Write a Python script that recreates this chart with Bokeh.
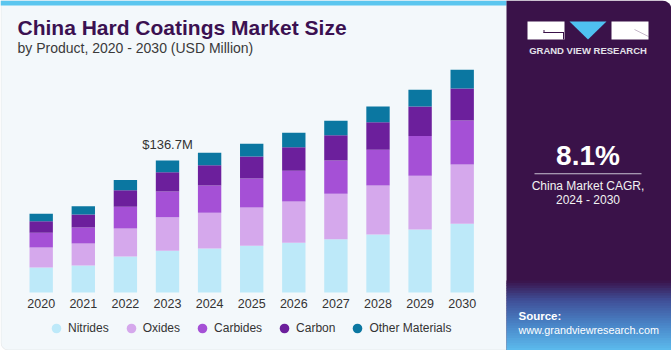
from bokeh.plotting import figure
from bokeh.models import ColumnDataSource, Range1d, Label, BoxAnnotation, PolyAnnotation, Legend, LegendItem
from bokeh.embed import file_html
from bokeh.resources import INLINE
from bokeh.core.properties import value

# ---------------- data ----------------
years = [2020, 2021, 2022, 2023, 2024, 2025, 2026, 2027, 2028, 2029, 2030]
year_labels = [str(y) for y in years]
segments = ["Nitrides", "Oxides", "Carbides", "Carbon", "Other Materials"]
nitrides = [25.9, 28.0, 37.3, 43.2, 45.6, 48.4, 51.5, 55.2, 60.1, 65.2, 71.1]
oxides = [20.7, 22.8, 29.0, 34.8, 37.0, 39.7, 42.8, 47.0, 50.7, 55.6, 61.4]
carbides = [15.2, 16.6, 22.5, 26.6, 28.3, 30.0, 31.8, 34.5, 37.0, 41.4, 45.6]
carbon = [12.0, 13.5, 17.2, 20.0, 21.0, 22.8, 24.4, 26.2, 28.6, 30.3, 33.1]
other = [7.7, 8.3, 10.4, 12.1, 12.8, 13.2, 14.9, 14.9, 16.3, 17.6, 19.4]
highlight_year = 2023
cagr_text = "8.1%"
cagr_caption = ["China Market CAGR,", "2024 - 2030"]

colors = ["#bde9f9", "#d5a8ec", "#a550d6", "#6c1f9c", "#0b77a1"]
FONT = "Liberation Sans"

# ---------------- layout constants ----------------
W, H = 671, 350
BASE = 292.0          # baseline, px from top
PX_PER_UNIT = 0.9656  # px per USD million
PX_PER_YEAR = 42.1
FIRST_CENTER = 40.7
SHIFT = 0.35          # baseline correction (em)


def sy(t):
    return H - t


def bl(t, fs):
    """screen y (from bottom) for a text whose baseline should sit at t px from top"""
    return H - (t - SHIFT * fs)


totals = [round(a + b + c + d + e, 1) for a, b, c, d, e in zip(nitrides, oxides, carbides, carbon, other)]
keys = ["nitrides", "oxides", "carbides", "carbon", "other"]
source = ColumnDataSource(dict(year=years, label=year_labels, zero=[0] * len(years),
                               nitrides=nitrides, oxides=oxides, carbides=carbides,
                               carbon=carbon, other=other, total=totals))

p = figure(width=W, height=H, output_backend="svg", toolbar_location=None,
           x_axis_type=None, y_axis_type=None, min_border=0,
           x_range=Range1d(2020 - FIRST_CENTER / PX_PER_YEAR, 2020 + (W - FIRST_CENTER) / PX_PER_YEAR),
           y_range=Range1d(-(H - BASE) / PX_PER_UNIT, BASE / PX_PER_UNIT))
p.outline_line_color = None
p.background_fill_color = "white"
p.border_fill_color = "white"


def box(l, r, t, b, color, level="annotation", **kw):
    bx = BoxAnnotation(left=l, right=r, top=sy(t), bottom=sy(b),
                       left_units="screen", right_units="screen", top_units="screen", bottom_units="screen",
                       fill_color=color, fill_alpha=1, level=level, **kw)
    p.add_layout(bx)
    return bx


def label(x, t, text, fs, color, bold=False, align="left"):
    p.add_layout(Label(x=x, y=bl(t, fs), x_units="screen", y_units="screen", text=text,
                       text_font=FONT, text_font_size="%spx" % fs,
                       text_font_style="bold" if bold else "normal",
                       text_color=color, text_align=align, text_baseline="alphabetic"))


# left panel background
box(0.5, 530, 0, 349.5, "#f3f8fb", level="underlay", line_color="#cccccc", line_width=1,
    border_radius=(0, 0, 0, 7))
box(0, 506, 0, 5, "#5bc6ef", level="underlay", line_color=None)

# bars
p.vbar_stack(keys, x="year", width=0.555, color=colors, source=source, line_color=None)

# year labels
p.text(x="year", y="zero", text="label", source=source, text_align="center",
       text_baseline="alphabetic", y_offset=15 - SHIFT * 12.5, text_font=value(FONT),
       text_font_size="12.5px", text_color="#333333")

# highlight value
hi = years.index(highlight_year)
p.text(x=[years[hi]], y=[totals[hi]], text=["$%.1fM" % totals[hi]], text_align="center",
       text_baseline="alphabetic", y_offset=-11 - SHIFT * 13, text_font=value(FONT),
       text_font_size="13px", text_color="#333333")

# legend
items = []
for name, col in zip(segments, colors):
    r = p.scatter(x=[float("nan")], y=[float("nan")], marker="circle", color=col, line_color=None)
    items.append(LegendItem(label=name, renderers=[r]))
legend = Legend(items=items, orientation="horizontal", location=(44, 10),
                glyph_width=24, glyph_height=24, label_height=24, label_standoff=0,
                spacing=10, padding=0, margin=0, border_line_alpha=0, background_fill_alpha=0,
                label_text_font=FONT, label_text_font_size="12px", label_text_color="#333333")
p.add_layout(legend)

# title
label(17, 34.3, "China Hard Coatings Market Size", 21, "#3b1151", bold=True)
label(17, 52.5, "by Product, 2020 - 2030 (USD Million)", 14, "#3a3a3a")

# right panel
box(506, 671, 0, 350, "#3a1249", line_color=None, border_radius=(0, 9, 0, 0))


def hex2rgb(h):
    h = h.lstrip("#")
    return [int(h[i:i + 2], 16) for i in (0, 2, 4)]


stops = [(280, "#3a1249"), (300, "#3f4f98"), (325, "#4a86c8"), (350, "#5cbcee")]
t = 280.0
step = 2.5
while t < 350:
    for (a, ca), (b, cb) in zip(stops[:-1], stops[1:]):
        if a <= t < b:
            f = (t + step / 2 - a) / (b - a)
            c1, c2 = hex2rgb(ca), hex2rgb(cb)
            col = "#%02x%02x%02x" % tuple(int(round(x + (y - x) * f)) for x, y in zip(c1, c2))
            break
    box(506, 671, t, min(350, t + step + 0.5), col, line_color=None)
    t += step

# logo
box(527, 564, 21, 39, "white", line_color=None)
box(611, 648, 21, 39, "white", line_color=None)
p.add_layout(PolyAnnotation(xs=[569, 606, 587.5], ys=[sy(21), sy(21), sy(39)],
                            xs_units="screen", ys_units="screen", fill_color="#4fc1f0",
                            fill_alpha=1, line_color=None))
box(543, 563, 31.5, 32.5, "#3a1249", line_color=None)
box(562.5, 563.5, 31.5, 39, "#3a1249", line_color=None)
box(543, 544, 29.5, 32.5, "#3a1249", line_color=None)
p.add_layout(PolyAnnotation(xs=[634, 648], ys=[sy(29), sy(36)], xs_units="screen", ys_units="screen",
                            fill_alpha=0, line_color="#3a1249", line_width=1))
label(587.5, 53.3, "GRAND VIEW RESEARCH", 9.5, "#e4e2ea", bold=True, align="center")

label(587.5, 165, cagr_text, 28, "white", bold=True, align="center")
box(534, 641, 172.8, 173.8, "#c9c2d2", line_color=None)
label(587.5, 190, cagr_caption[0], 12, "#f2f2f2", align="center")
label(587.5, 204, cagr_caption[1], 12, "#f2f2f2", align="center")

label(518, 319.5, "Source:", 11.5, "white", bold=True)
label(518, 333, "www.grandviewresearch.com", 10.8, "white")

open("out.html", "w").write(file_html(p, INLINE))
